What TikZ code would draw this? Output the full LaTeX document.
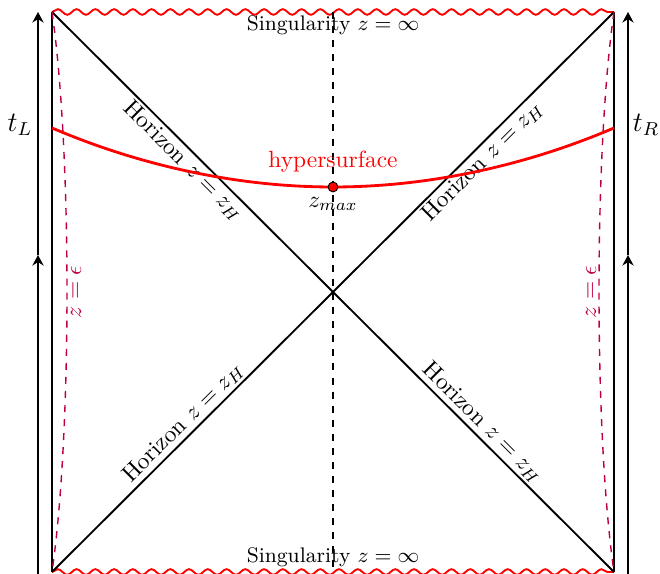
\documentclass[tikz,border=0pt]{standalone}
\usepackage{amsmath}
\usetikzlibrary{arrows.meta, decorations.pathmorphing, positioning}

\begin{document}
\begin{tikzpicture}[x=0.15mm, y=0.15mm,
    wavy/.style={red, thick, decorate, decoration={snake, segment length=8pt, amplitude=1.2pt}},
    cutoff/.style={purple, semithick, dashed},
    timearrow/.style={thick, -{Stealth[length=4.5pt, width=4.8pt]}},
    horizonlabel/.style={midway, sloped, inner sep=1pt}]
    \useasboundingbox (0,0) rectangle (660,574);

    % Corners and center
    \coordinate (TL) at (52,562);
    \coordinate (TR) at (614,562);
    \coordinate (BL) at (52,2);
    \coordinate (BR) at (614,2);
    \coordinate (C) at (333,282);
    \coordinate (ctop) at (333,562);
    \coordinate (cbot) at (333,2);

    % Boundaries
    \draw[thick] (BL) -- (TL);
    \draw[thick] (BR) -- (TR);

    % Singularities
    \draw[wavy] (TL) -- (TR);
    \draw[wavy] (BL) -- (BR);
    \node[font=\small] (singtop) at (333,549) {Singularity $z=\infty$};
    \node[font=\small] (singbot) at (333,17) {Singularity $z=\infty$};

    % Center line
    \draw[semithick, dashed] (ctop) -- (cbot);

    % Horizons
    \draw[thick] (TL) -- (C) node[horizonlabel, below] {Horizon $z=z_H$};
    \draw[thick] (C) -- (TR) node[horizonlabel, below] {Horizon $z=z_H$};
    \draw[thick] (BL) -- (C) node[horizonlabel, above] {Horizon $z=z_H$};
    \draw[thick] (C) -- (BR) node[horizonlabel, above] {Horizon $z=z_H$};

    % Cutoff surfaces
    \draw[cutoff] (TL) .. controls (72,424) and (72,140) .. (BL);
    \draw[cutoff] (TR) .. controls (594,424) and (594,140) .. (BR);
    \node[purple, rotate=90] (epsL) at (76,282) {$z=\epsilon$};
    \node[purple, rotate=90] (epsR) at (591,282) {$z=\epsilon$};

    % Time arrows
    \coordinate (Lbot) at (38,0);
    \coordinate (Lmid) at (38,319);
    \coordinate (Ltop) at (38,562);
    \coordinate (Rbot) at (628,0);
    \coordinate (Rmid) at (628,319);
    \coordinate (Rtop) at (628,562);
    \draw[timearrow] (Lbot) -- (Lmid);
    \draw[timearrow] (Lmid) -- (Ltop);
    \draw[timearrow] (Rbot) -- (Rmid);
    \draw[timearrow] (Rmid) -- (Rtop);
    \node[font=\large] (tL) at (20,449) {$t_L$};
    \node[font=\large] (tR) at (646,449) {$t_R$};

    % Hypersurface
    \coordinate (hl) at (52,446);
    \coordinate (hr) at (614,446);
    \draw[red, very thick] (hl) parabola bend (333,387) (hr);
    \filldraw[fill=red, draw=black] (333,387) circle (2.1pt);
    \node[red] (hyper) at (333,412) {hypersurface};
    \node (zmax) at (333,370) {$z_{max}$};
\end{tikzpicture}
\end{document}
